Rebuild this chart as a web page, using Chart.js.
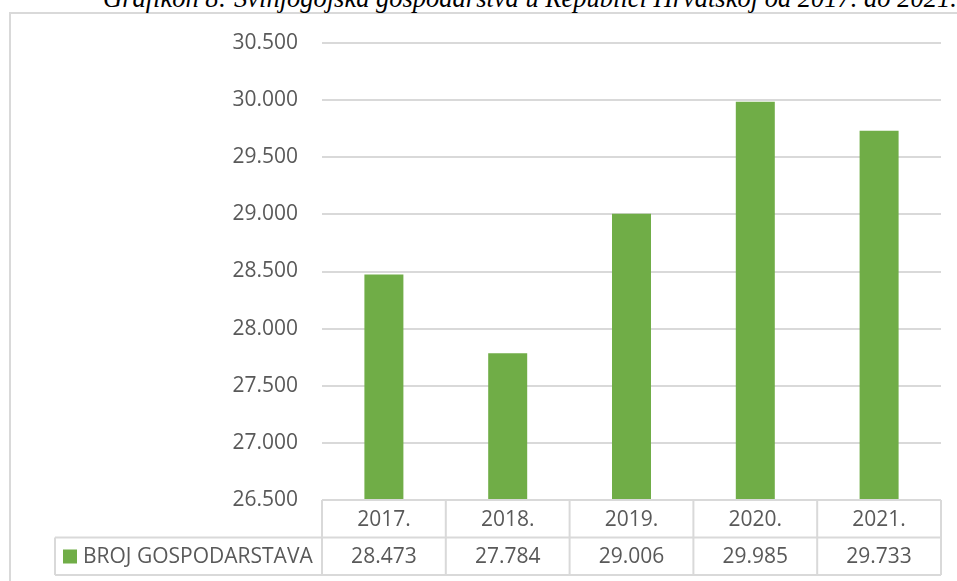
<!DOCTYPE html>
<html>
<head>
<meta charset="utf-8">
<script src="https://cdn.jsdelivr.net/npm/chart.js@4.4.1/dist/chart.umd.min.js"></script>
<style>
    html, body { margin: 0; padding: 0; background: #fff; overflow: hidden; }
    #wrap { position: relative; width: 957px; height: 581px; overflow: hidden; }
    #frame {
        position: absolute; left: 9px; top: 12px; width: 1000px; height: 700px;
        border: 2px solid #D9D9D9; box-sizing: border-box;
    }
    #title {
        position: absolute; left: 103px; top: -17px; white-space: nowrap;
        font-family: 'Liberation Serif', serif; font-style: italic; font-size: 26.5px; color: #000;
    }
    canvas { position: absolute; left: 0; top: 0; }
</style>
</head>
<body>
<div id="wrap">
    <div id="frame"></div>
    <div id="title">Grafikon 8: Svinjogojska gospodarstva u Republici Hrvatskoj od 2017. do 2021.</div>
    <canvas id="chart" width="957" height="581"></canvas>
</div>
<script>
    // podaci
    const years = ['2017.', '2018.', '2019.', '2020.', '2021.'];
    const farms = [28473, 27784, 29006, 29985, 29733];
    const seriesName = 'BROJ GOSPODARSTAVA';

    const GREEN = '#70AD47';
    const GRID = '#D9D9D9';
    const TEXT = '#595959';
    const FONT = "'Open Sans', sans-serif";

    // 28473 -> 28.473
    const fmt = (v) => String(v).replace(/\B(?=(\d{3})+(?!\d))/g, '.');

    // tablica podataka ispod grafikona
    const dataTablePlugin = {
        id: 'dataTable',
        afterDraw(chart) {
            const ctx = chart.ctx;
            const area = chart.chartArea;
            const labels = chart.data.labels;
            const values = chart.data.datasets[0].data;
            const colW = (area.right - area.left) / labels.length;
            const rowH = 37.5;
            const top = area.bottom;
            const legendLeft = 55;

            ctx.save();
            ctx.strokeStyle = GRID;
            ctx.lineWidth = 2;
            ctx.beginPath();
            // horizontalne linije
            ctx.moveTo(area.left, top); ctx.lineTo(area.right, top);
            ctx.moveTo(legendLeft, top + rowH); ctx.lineTo(area.right, top + rowH);
            ctx.moveTo(legendLeft, top + 2 * rowH); ctx.lineTo(area.right, top + 2 * rowH);
            // vertikalne linije
            for (let i = 0; i <= labels.length; i++) {
                const x = area.left + i * colW;
                ctx.moveTo(x, top); ctx.lineTo(x, top + 2 * rowH);
            }
            ctx.moveTo(legendLeft, top + rowH); ctx.lineTo(legendLeft, top + 2 * rowH);
            ctx.stroke();

            ctx.fillStyle = TEXT;
            ctx.font = '21px ' + FONT;
            ctx.textAlign = 'center';
            ctx.textBaseline = 'middle';
            labels.forEach((lbl, i) => {
                const cx = chart.scales.x.getPixelForValue(i);
                ctx.fillText(lbl, cx, top + rowH / 2 + 1);
                ctx.fillText(fmt(values[i]), cx, top + rowH * 1.5 + 1);
            });

            // legenda
            ctx.fillStyle = GREEN;
            ctx.fillRect(63, top + rowH + 12, 14, 14);
            ctx.fillStyle = TEXT;
            ctx.textAlign = 'left';
            ctx.fillText(chart.data.datasets[0].label, 83, top + rowH * 1.5 + 1);
            ctx.restore();
        }
    };

    new Chart(document.getElementById('chart'), {
        type: 'bar',
        data: {
            labels: years,
            datasets: [{
                label: seriesName,
                data: farms,
                backgroundColor: GREEN,
                categoryPercentage: 1,
                barPercentage: 0.315
            }]
        },
        options: {
            responsive: false,
            animation: false,
            layout: { padding: { left: 0, right: 16, top: 43, bottom: 81 } },
            plugins: {
                legend: { display: false },
                tooltip: { enabled: false }
            },
            scales: {
                x: { display: false },
                y: {
                    min: 26500,
                    max: 30500,
                    ticks: {
                        stepSize: 500,
                        padding: 24,
                        color: TEXT,
                        font: { family: FONT, size: 21 },
                        callback: (v) => fmt(v)
                    },
                    grid: { color: GRID, lineWidth: 2, drawTicks: false },
                    border: { display: false },
                    afterFit: (scale) => { scale.width = 322; }
                }
            }
        },
        plugins: [dataTablePlugin]
    });
</script>
</body>
</html>
